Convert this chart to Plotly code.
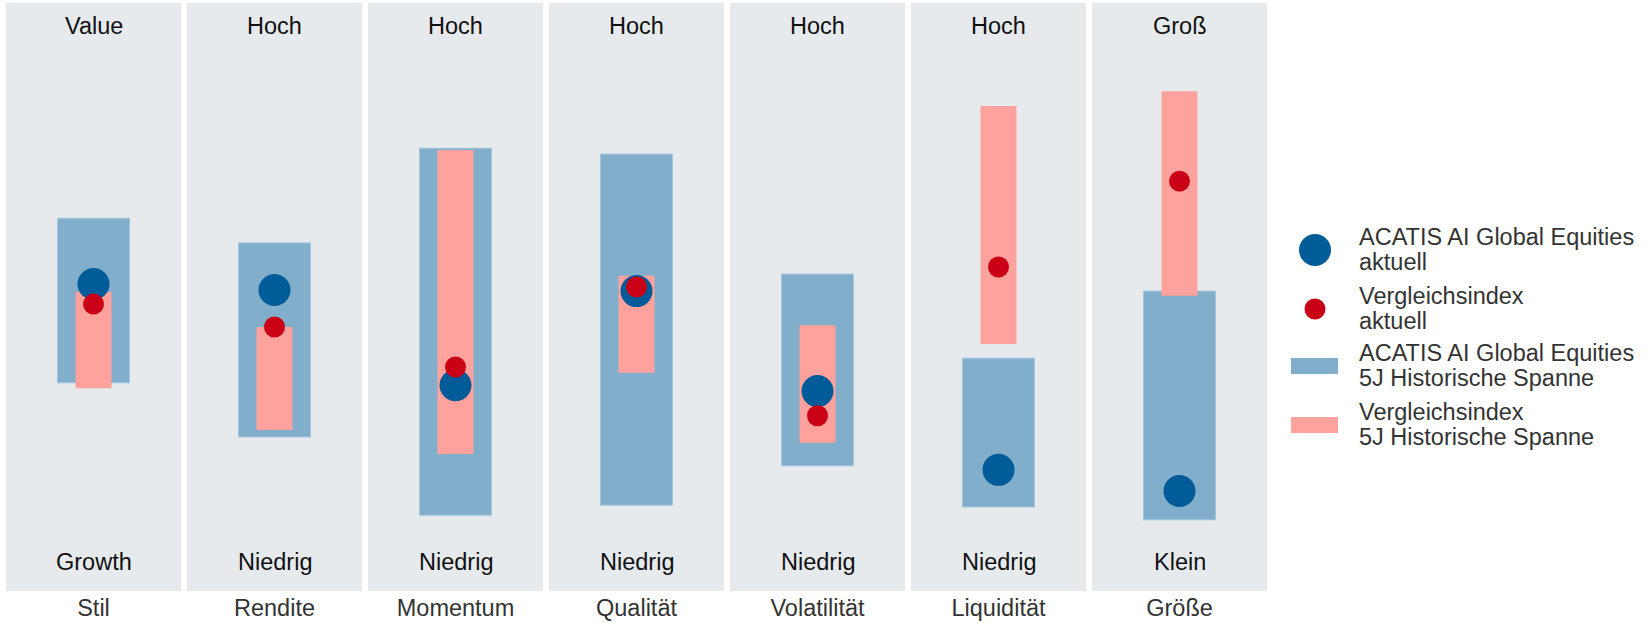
import plotly.graph_objects as go

categories = ["Stil", "Rendite", "Momentum", "Qualität", "Volatilität", "Liquidität", "Größe"]
top_labels = ["Value", "Hoch", "Hoch", "Hoch", "Hoch", "Hoch", "Groß"]
bottom_labels = ["Growth", "Niedrig", "Niedrig", "Niedrig", "Niedrig", "Niedrig", "Klein"]

fund_low = [35.4, 26.2, 12.9, 14.6, 21.3, 14.3, 12.1]
fund_high = [63.4, 59.2, 75.3, 74.3, 53.9, 39.6, 51.0]
idx_low = [34.5, 27.4, 23.3, 37.1, 25.2, 42.0, 50.2]
idx_high = [50.9, 44.9, 75.0, 53.6, 45.2, 82.5, 85.0]
fund_cur = [52.2, 51.2, 35.0, 51.0, 34.0, 20.6, 17.0]
idx_cur = [48.8, 44.9, 38.1, 51.7, 29.8, 55.1, 69.7]

legend_lines = [
    ("ACATIS AI Global Equities", "aktuell"),
    ("Vergleichsindex", "aktuell"),
    ("ACATIS AI Global Equities", "5J Historische Spanne"),
    ("Vergleichsindex", "5J Historische Spanne"),
]

W, H = 1648, 623
ML, MR, MT, MB = 3, 378, 3, 32
PW = W - ML - MR
PH = H - MT - MB

BG = "#E6EAED"
BLUE_BAR = "#80AECB"
PINK_BAR = "#FFA19C"
BLUE_DOT = "#005B99"
RED_DOT = "#C90016"
FONT = "Arial, Liberation Sans, sans-serif"
FS = 23.5


def xp(px):
    return (px - ML) / PW


def yp(py):
    return (H - MB - py) / PH


fund_span = [h - l for h, l in zip(fund_high, fund_low)]
idx_span = [h - l for h, l in zip(idx_high, idx_low)]

fig = go.Figure()
fig.add_trace(go.Bar(x=categories, y=[100] * len(categories), base=0, width=175 / 181,
                     marker=dict(color=BG, line=dict(width=0)), hoverinfo="skip", showlegend=False))
fig.add_trace(go.Bar(x=categories, y=fund_span, base=fund_low, width=72 / 181,
                     marker=dict(color=BLUE_BAR, line=dict(width=1, color="#A3C5DB")),
                     name="ACATIS AI Global Equities 5J Historische Spanne", showlegend=False))
fig.add_trace(go.Bar(x=categories, y=idx_span, base=idx_low, width=36 / 181,
                     marker=dict(color=PINK_BAR, line=dict(width=0)),
                     name="Vergleichsindex 5J Historische Spanne", showlegend=False))
fig.add_trace(go.Scatter(x=categories, y=fund_cur, mode="markers",
                         marker=dict(size=32, color=BLUE_DOT, line=dict(width=0)),
                         name="ACATIS AI Global Equities aktuell", showlegend=False))
fig.add_trace(go.Scatter(x=categories, y=idx_cur, mode="markers",
                         marker=dict(size=21, color=RED_DOT, line=dict(width=0)),
                         name="Vergleichsindex aktuell", showlegend=False))

annotations = []
for c, t, b in zip(categories, top_labels, bottom_labels):
    annotations.append(dict(x=c, y=yp(26), xref="x", yref="paper", text=t, showarrow=False,
                            font=dict(size=FS, color="#111111", family=FONT), yanchor="middle"))
    annotations.append(dict(x=c, y=yp(562), xref="x", yref="paper", text=b, showarrow=False,
                            font=dict(size=FS, color="#111111", family=FONT), yanchor="middle"))

shapes = []
item_centers = [250, 309, 366, 425]
sym_x = 1315
shapes.append(dict(type="circle", xref="paper", yref="paper", xsizemode="pixel", ysizemode="pixel",
                   xanchor=xp(sym_x), yanchor=yp(item_centers[0]), x0=-16, x1=16, y0=-16, y1=16,
                   fillcolor=BLUE_DOT, line=dict(width=0)))
shapes.append(dict(type="circle", xref="paper", yref="paper", xsizemode="pixel", ysizemode="pixel",
                   xanchor=xp(sym_x), yanchor=yp(item_centers[1]), x0=-10.5, x1=10.5, y0=-10.5, y1=10.5,
                   fillcolor=RED_DOT, line=dict(width=0)))
shapes.append(dict(type="rect", xref="paper", yref="paper", x0=xp(1291), x1=xp(1338),
                   y0=yp(item_centers[2] + 8), y1=yp(item_centers[2] - 8),
                   fillcolor=BLUE_BAR, line=dict(width=0)))
shapes.append(dict(type="rect", xref="paper", yref="paper", x0=xp(1291), x1=xp(1338),
                   y0=yp(item_centers[3] + 8), y1=yp(item_centers[3] - 8),
                   fillcolor=PINK_BAR, line=dict(width=0)))

for cy, (l1, l2) in zip(item_centers, legend_lines):
    annotations.append(dict(x=xp(1357), y=yp(cy - 13), xref="paper", yref="paper", text=l1,
                            showarrow=False, xanchor="left", yanchor="middle",
                            font=dict(size=FS, color="#333333", family=FONT)))
    annotations.append(dict(x=xp(1357), y=yp(cy + 12), xref="paper", yref="paper", text=l2,
                            showarrow=False, xanchor="left", yanchor="middle",
                            font=dict(size=FS, color="#333333", family=FONT)))

fig.update_layout(
    width=W, height=H,
    margin=dict(l=ML, r=MR, t=MT, b=MB, pad=0),
    paper_bgcolor="white", plot_bgcolor="white",
    barmode="overlay",
    showlegend=False,
    annotations=annotations,
    shapes=shapes,
    font=dict(family=FONT, size=FS, color="#333333"),
    xaxis=dict(type="category", range=[-0.5, 6.5], showgrid=False, zeroline=False, showline=False,
               ticks="", tickfont=dict(size=FS, color="#333333", family=FONT), fixedrange=True),
    yaxis=dict(range=[0, 100], visible=False, fixedrange=True),
)

fig.write_html("out.html", config={"displayModeBar": False},
               post_script="document.body.style.margin='0px';document.body.style.overflow='hidden';")
